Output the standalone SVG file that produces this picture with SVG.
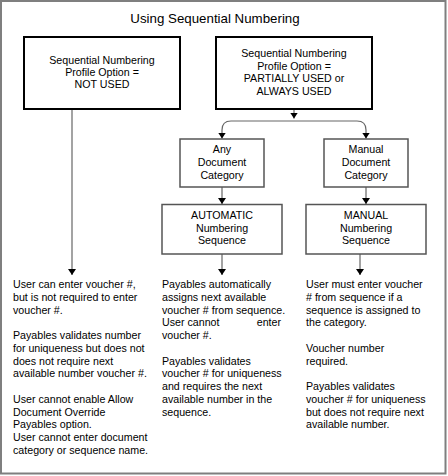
<svg xmlns="http://www.w3.org/2000/svg" width="448" height="476" viewBox="0 0 448 476">
<defs>
<style>
text{font-family:"Liberation Sans",Arial,sans-serif;font-size:10.67px;fill:#000}
.c{text-anchor:middle}
.t{font-size:13.3px}
.big{fill:#fff;stroke:#000;stroke-width:2}
.sm{fill:#fff;stroke:#555;stroke-width:1.5}
.ln{fill:none;stroke:#666;stroke-width:1.2}
</style>
<marker id="ah" viewBox="0 0 6 8" refX="6" refY="4" markerWidth="6" markerHeight="8" markerUnits="userSpaceOnUse" orient="auto">
<path d="M0,0 L6,4 L0,8 z" fill="#000"/>
</marker>
</defs>
<rect x="1" y="1" width="444.5" height="472.5" fill="#fff" stroke="#7f7f7f" stroke-width="2"/>
<text class="c t" x="215" y="23">Using Sequential Numbering</text>

<g id="connectors">
<path class="ln" d="M72,109 V275" marker-end="url(#ah)"/>
<path class="ln" d="M294,109 V118.5" marker-end="url(#ah)"/>
<path class="ln" d="M294,121 H231 Q222,121 222,130 V138.5" marker-end="url(#ah)"/>
<path class="ln" d="M294,121 H357 Q366,121 366,130 V138.5" marker-end="url(#ah)"/>
<path class="ln" d="M222,187 V204" marker-end="url(#ah)"/>
<path class="ln" d="M366,187 V204" marker-end="url(#ah)"/>
<path class="ln" d="M222,254 V275" marker-end="url(#ah)"/>
<path class="ln" d="M360,254 V275" marker-end="url(#ah)"/>
</g>

<g id="notused">
<rect class="big" x="24" y="37" width="156" height="72"/>
<text class="c" x="102" y="64">Sequential Numbering</text>
<text class="c" x="102" y="76.2">Profile Option =</text>
<text class="c" x="102" y="88.4">NOT USED</text>
</g>
<g id="used">
<rect class="big" x="216" y="37" width="156" height="72"/>
<text class="c" x="294" y="57.2">Sequential Numbering</text>
<text class="c" x="294" y="69.7">Profile Option =</text>
<text class="c" x="294" y="82.2">PARTIALLY USED or</text>
<text class="c" x="294" y="94.7">ALWAYS USED</text>
</g>
<g id="anydoc">
<rect class="sm" x="180" y="139" width="84" height="48"/>
<text class="c" x="222" y="153">Any</text>
<text class="c" x="222" y="165.8">Document</text>
<text class="c" x="222" y="178.5">Category</text>
</g>
<g id="manualdoc">
<rect class="sm" x="324" y="139" width="84" height="48"/>
<text class="c" x="366" y="153">Manual</text>
<text class="c" x="366" y="165.8">Document</text>
<text class="c" x="366" y="178.5">Category</text>
</g>
<g id="autoseq">
<rect class="sm" x="162" y="204.5" width="120" height="49.5"/>
<text class="c" x="222" y="218.8">AUTOMATIC</text>
<text class="c" x="222" y="231.6">Numbering</text>
<text class="c" x="222" y="244.4">Sequence</text>
</g>
<g id="manualseq">
<rect class="sm" x="306" y="204.5" width="120" height="49.5"/>
<text class="c" x="366" y="218.8">MANUAL</text>
<text class="c" x="366" y="231.6">Numbering</text>
<text class="c" x="366" y="244.4">Sequence</text>
</g>

<g id="col1">
<text x="13" y="288">User can enter voucher #,</text>
<text x="13" y="300.75">but is not required to enter</text>
<text x="13" y="313.5">voucher #.</text>
<text x="13" y="339">Payables validates number</text>
<text x="13" y="351.75">for uniqueness but does not</text>
<text x="13" y="364.5">does not require next</text>
<text x="13" y="377.25">available number voucher #.</text>
<text x="13" y="402.75">User cannot enable Allow</text>
<text x="13" y="415.5">Document Override</text>
<text x="13" y="428.25">Payables option.</text>
<text x="13" y="441">User cannot enter document</text>
<text x="13" y="453.75">category or sequence name.</text>
</g>
<g id="col2">
<text x="162" y="288">Payables automatically</text>
<text x="162" y="300.75">assigns next available</text>
<text x="162" y="313.5">voucher # from sequence.</text>
<text x="162" y="326.25">User cannot</text>
<text x="281" y="326.25" text-anchor="end">enter</text>
<text x="162" y="339">voucher #.</text>
<text x="162" y="364.5">Payables validates</text>
<text x="162" y="377.25">voucher # for uniqueness</text>
<text x="162" y="390">and requires the next</text>
<text x="162" y="402.75">available number in the</text>
<text x="162" y="415.5">sequence.</text>
</g>
<g id="col3">
<text x="306" y="288">User must enter voucher</text>
<text x="306" y="300.75"># from sequence if a</text>
<text x="306" y="313.5">sequence is assigned to</text>
<text x="306" y="326.25">the category.</text>
<text x="306" y="351.75">Voucher number</text>
<text x="306" y="364.5">required.</text>
<text x="306" y="390">Payables validates</text>
<text x="306" y="402.75">voucher # for uniqueness</text>
<text x="306" y="415.5">but does not require next</text>
<text x="306" y="428.25">available number.</text>
</g>
</svg>
